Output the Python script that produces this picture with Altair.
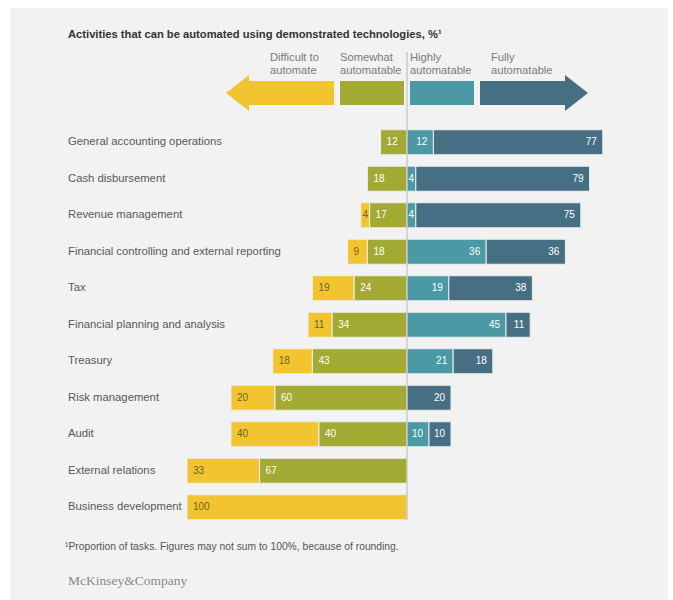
import altair as alt
import pandas as pd

categories = [
    "General accounting operations",
    "Cash disbursement",
    "Revenue management",
    "Financial controlling and external reporting",
    "Tax",
    "Financial planning and analysis",
    "Treasury",
    "Risk management",
    "Audit",
    "External relations",
    "Business development",
]
difficult = [0, 0, 4, 9, 19, 11, 18, 20, 40, 33, 100]
somewhat = [12, 18, 17, 18, 24, 34, 43, 60, 40, 67, 0]
highly = [12, 4, 4, 36, 19, 45, 21, 0, 10, 0, 0]
fully = [77, 79, 75, 36, 38, 11, 18, 20, 10, 0, 0]

segments = ["Difficult to automate", "Somewhat automatable", "Highly automatable", "Fully automatable"]
seg_colors = ["#F2C530", "#A3AA34", "#4A99A4", "#476F83"]
text_colors = ["#6b6230", "#ffffff", "#ffffff", "#ffffff"]
legend_lines = [["Difficult to", "automate"], ["Somewhat", "automatable"],
                ["Highly", "automatable"], ["Fully", "automatable"]]

title_text = "Activities that can be automated using demonstrated technologies, %\u00b9"
footnote_text = "\u00b9Proportion of tasks. Figures may not sum to 100%, because of rounding."
logo_text = "McKinsey&Company"

# ---- build table ----
rows = []
for i, cat in enumerate(categories):
    d, s, h, f = difficult[i], somewhat[i], highly[i], fully[i]
    spans = [(-(s + d), -s, d, "left"), (-s, 0, s, "left"), (0, h, h, "right"), (h, h + f, f, "right")]
    for j, (a, b, v, side) in enumerate(spans):
        if v == 0:
            continue
        rows.append({
            "cat": cat, "seg": segments[j], "start": a, "end": b, "mid": (a + b) / 2,
            "value": v, "side": side, "small": bool(v < 8),
            "fill": seg_colors[j], "tcolor": text_colors[j],
        })
df = pd.DataFrame(rows)

FONT = "Liberation Sans"
pin = 0.315
yscale = alt.Scale(domain=categories, range=[124, 525.5], paddingInner=pin, paddingOuter=pin / 2)
xscale = alt.Scale(domain=[-100, 100], range=[187, 627])


def one():
    return pd.DataFrame({"z": [0]})


bg = alt.Chart(one()).mark_rect(color="#f2f2f2").encode(
    x=alt.value(10), x2=alt.value(668), y=alt.value(8), y2=alt.value(600))

Y = alt.Y("cat:N", scale=yscale, axis=None)

bars = alt.Chart(df).mark_bar(stroke="#eeeeee", strokeWidth=1).encode(
    y=Y,
    x=alt.X("start:Q", scale=xscale, axis=None),
    x2="end:Q",
    color=alt.Color("fill:N", scale=None),
)

lab_left = alt.Chart(df[(df.side == "left") & (~df.small)]).mark_text(
    align="left", baseline="middle", dx=6, font=FONT, fontSize=10).encode(
    y=Y, x=alt.X("start:Q", scale=xscale, axis=None),
    text="value:Q", color=alt.Color("tcolor:N", scale=None))
lab_right = alt.Chart(df[(df.side == "right") & (~df.small)]).mark_text(
    align="right", baseline="middle", dx=-6, font=FONT, fontSize=10).encode(
    y=Y, x=alt.X("end:Q", scale=xscale, axis=None),
    text="value:Q", color=alt.Color("tcolor:N", scale=None))
lab_small = alt.Chart(df[df.small]).mark_text(
    align="center", baseline="middle", font=FONT, fontSize=10).encode(
    y=Y, x=alt.X("mid:Q", scale=xscale, axis=None),
    text="value:Q", color=alt.Color("tcolor:N", scale=None))

cat_df = pd.DataFrame({"cat": categories})
cat_labels = alt.Chart(cat_df).mark_text(
    align="left", baseline="middle", font=FONT, fontSize=11.3, color="#585858").encode(
    y=Y, x=alt.value(68), text="cat:N")

zero = alt.Chart(one()).mark_rule(color="#b8b8b8", strokeWidth=1).encode(
    x=alt.X("z:Q", scale=xscale, axis=None), y=alt.value(52), y2=alt.value(520))

# legend arrows (decorative shapes)
shapes = [
    (280, "M-54,0L-31,-18L-31,-12L54,-12L54,12L-31,12L-31,18Z"),
    (372, "M-32,-12L32,-12L32,12L-32,12Z"),
    (442, "M-32,-12L32,-12L32,12L-32,12Z"),
    (534, "M-54,-12L31,-12L31,-18L54,0L31,18L31,12L-54,12Z"),
]
legend_layers = []
label_x = [270, 340, 410, 491]
for k, (cx, path) in enumerate(shapes):
    legend_layers.append(alt.Chart(one()).mark_point(
        shape=path, size=4, filled=True, color=seg_colors[k], opacity=1, strokeWidth=0).encode(
        x=alt.value(cx), y=alt.value(93)))
    legend_layers.append(alt.Chart(one()).mark_text(
        align="left", baseline="middle", font=FONT, fontSize=11.2, color="#7a7a7a",
        text=legend_lines[k][0]).encode(x=alt.value(label_x[k]), y=alt.value(58)))
    legend_layers.append(alt.Chart(one()).mark_text(
        align="left", baseline="middle", font=FONT, fontSize=11.2, color="#7a7a7a",
        text=legend_lines[k][1]).encode(x=alt.value(label_x[k]), y=alt.value(71)))

title = alt.Chart(one()).mark_text(
    align="left", baseline="middle", font=FONT, fontSize=11.2, fontWeight="bold", color="#333333",
    text=title_text).encode(x=alt.value(68), y=alt.value(35))
footnote = alt.Chart(one()).mark_text(
    align="left", baseline="middle", font=FONT, fontSize=10.3, color="#555555",
    text=footnote_text).encode(x=alt.value(65), y=alt.value(547))
logo = alt.Chart(one()).mark_text(
    align="left", baseline="middle", font="Liberation Serif", fontSize=13.5, color="#8a8a8a",
    text=logo_text).encode(x=alt.value(68), y=alt.value(581))

chart = alt.layer(
    bg, bars, zero, lab_left, lab_right, lab_small, cat_labels, *legend_layers, title, footnote, logo
).properties(
    width=673, height=600, padding=0, autosize=alt.AutoSizeParams(type="none"), background="white"
).configure_view(stroke=None)

chart.save("out.html", embed_options={"renderer": "svg", "actions": False})
